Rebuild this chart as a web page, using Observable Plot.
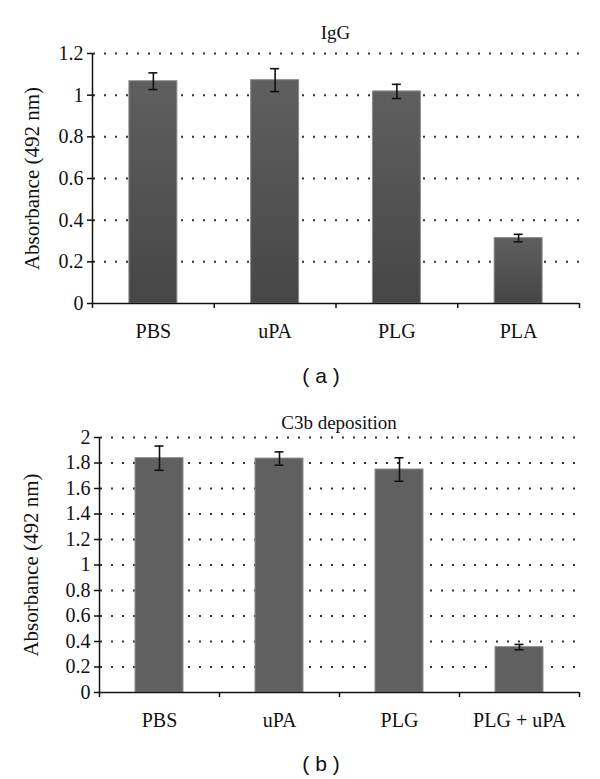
<!DOCTYPE html>
<html><head><meta charset="utf-8">
<script src="https://cdn.jsdelivr.net/npm/d3@7"></script>
<script src="https://cdn.jsdelivr.net/npm/@observablehq/plot@0.6"></script>
<style>
body{margin:0;background:#fff;}
#page{position:relative;width:600px;height:779px;overflow:hidden;background:#fff;}
#page svg, #page svg text{font-family:"Liberation Serif","Times New Roman",serif !important;}
.title{position:absolute;font-family:"Liberation Serif","Times New Roman",serif;font-size:19px;color:#111;white-space:nowrap;transform:translate(-50%,-50%);line-height:1;}
.cap{position:absolute;font-family:"Liberation Sans",Arial,sans-serif;font-size:21px;color:#111;white-space:pre;transform:translate(-50%,-50%);line-height:1;}
.panel{position:absolute;left:0;}
</style></head><body><div id="page"></div>
<script>
// ---- data ----
const catsA = ["PBS", "uPA", "PLG", "PLA"];
const valsA = [1.067, 1.072, 1.018, 0.314];
const errsA = [0.040, 0.055, 0.034, 0.018];
const yTicksA = [0, 0.2, 0.4, 0.6, 0.8, 1, 1.2];

const catsB = ["PBS", "uPA", "PLG", "PLG + uPA"];
const valsB = [1.838, 1.835, 1.749, 0.356];
const errsB = [0.095, 0.052, 0.092, 0.021];
const yTicksB = [0, 0.2, 0.4, 0.6, 0.8, 1, 1.2, 1.4, 1.6, 1.8, 2];

const titleA = "IgG", titleB = "C3b deposition";
const capA = "( a )", capB = "( b )";
const yLabel = "Absorbance (492 nm)";

const page = document.getElementById("page");
const NS = "http://www.w3.org/2000/svg";

function addText(cls, text, x, y) {
  const d = document.createElement("div");
  d.className = cls; d.textContent = text;
  d.style.left = x + "px"; d.style.top = y + "px";
  page.appendChild(d);
}

function panel(cfg) {
  const rows = cfg.cats.map((c, i) => ({i, cat: c, v: cfg.vals[i], e: cfg.errs[i]}));
  const n = cfg.cats.length;
  const plotW = 600 - cfg.ml - cfg.mr;
  const band = plotW / n;
  const inset = (band - 48) / 2;
  const cap = 4.5 / band;
  const ymax = cfg.ticks[cfg.ticks.length - 1];
  const black = "#111";
  const chart = Plot.plot({
    width: 600, height: cfg.height,
    marginTop: cfg.mt, marginBottom: cfg.mb, marginLeft: cfg.ml, marginRight: cfg.mr,
    x: {type: "linear", domain: [0, n], axis: null},
    y: {domain: [0, ymax], axis: null},
    style: {fontFamily: "Liberation Serif, serif", fontSize: "20px", color: black, background: "transparent", overflow: "visible"},
    marks: [
      Plot.ruleY(cfg.ticks.filter(t => t > 0), {stroke: "#333", strokeWidth: 2, strokeDasharray: "2,9", strokeDashoffset: -1}),
      Plot.rectY(rows, {x1: "i", x2: d => d.i + 1, y: "v", insetLeft: inset, insetRight: inset, fill: cfg.fill, stroke: "#8e8e8e", strokeWidth: 1}),
      Plot.ruleX(rows, {x: d => d.i + 0.5, y1: d => d.v - d.e, y2: d => d.v + d.e, stroke: black, strokeWidth: 1.6}),
      Plot.ruleY(rows, {x1: d => d.i + 0.5 - cap, x2: d => d.i + 0.5 + cap, y: d => d.v + d.e, stroke: black, strokeWidth: 1.6}),
      Plot.ruleY(rows, {x1: d => d.i + 0.5 - cap, x2: d => d.i + 0.5 + cap, y: d => d.v - d.e, stroke: black, strokeWidth: 1.6}),
      Plot.ruleX([0], {stroke: black, strokeWidth: 1.5}),
      Plot.ruleY([0], {stroke: black, strokeWidth: 1.5}),
      Plot.axisY({ticks: cfg.ticks, tickSize: 5, tickPadding: 4, tickFormat: d => String(d), label: null, fontSize: 20, stroke: black, strokeWidth: 1.5}),
      Plot.axisX({ticks: d3.range(n + 1), tickSize: 5, tickFormat: () => "", label: null, stroke: black, strokeWidth: 1.5}),
      Plot.axisX({ticks: rows.map(d => d.i + 0.5), tickSize: 0, tickPadding: 20, tickFormat: d => cfg.cats[Math.round(d - 0.5)], label: null, fontSize: 20}),
      Plot.text([yLabel], {text: d => d, frameAnchor: "left", textAnchor: "middle", lineAnchor: "middle", rotate: -90, dx: -(cfg.ml - cfg.labelX), fontSize: 21, fill: black})
    ]
  });
  chart.setAttribute("font-family", "Liberation Serif, serif");
  if (cfg.gradient) {
    const defs = document.createElementNS(NS, "defs");
    const g = document.createElementNS(NS, "linearGradient");
    g.setAttribute("id", cfg.gradient.id);
    g.setAttribute("x1", "0"); g.setAttribute("y1", "0"); g.setAttribute("x2", "0"); g.setAttribute("y2", "1");
    cfg.gradient.stops.forEach(([o, c]) => {
      const s = document.createElementNS(NS, "stop");
      s.setAttribute("offset", o); s.setAttribute("stop-color", c);
      g.appendChild(s);
    });
    defs.appendChild(g);
    chart.insertBefore(defs, chart.firstChild);
  }
  const wrap = document.createElement("div");
  wrap.className = "panel";
  wrap.style.top = cfg.top + "px";
  wrap.appendChild(chart);
  page.appendChild(wrap);
  addText("title", cfg.title, cfg.ml + plotW / 2, cfg.titleY);
  addText("cap", cfg.caption, 321, cfg.capY);
}

panel({
  cats: catsA, vals: valsA, errs: errsA, ticks: yTicksA,
  top: 40, height: 308, mt: 13, mb: 45, ml: 92, mr: 21, labelX: 32,
  fill: "url(#gradA)", gradient: {id: "gradA", stops: [["0", "#5f5f5f"], ["1", "#464646"]]},
  title: titleA, titleY: 32, caption: capA, capY: 375
});
panel({
  cats: catsB, vals: valsB, errs: errsB, ticks: yTicksB,
  top: 420, height: 317, mt: 17, mb: 45, ml: 99, mr: 21, labelX: 31,
  fill: "#606060",
  title: titleB, titleY: 422, caption: capB, capY: 763
});
</script>
</body></html>
